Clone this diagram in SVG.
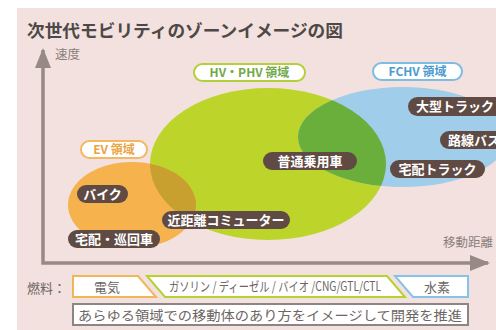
<svg xmlns="http://www.w3.org/2000/svg" width="496" height="330" viewBox="0 0 496 330">
<defs>
<style>
text{font-family:"Noto Sans CJK JP","Noto Sans",sans-serif}
.title{font-size:17.5px;font-weight:bold;fill:#4e4846}
.axl{font-size:12.5px;fill:#8a7f7c}
.pill rect{fill:#5f4b43}
.pill text{font-size:13px;font-weight:bold;fill:#fff}
.zl rect{fill:#fff;stroke-width:2}
.zl text{font-size:12px;font-weight:bold;text-anchor:middle}
.fuel{font-size:13px;fill:#6d6664}
.mid{text-anchor:middle}
.axis{fill:none;stroke:#978a85;stroke-width:3.5}
.seg{fill:#fff;stroke-width:2;stroke-linejoin:miter}
</style>
<marker id="ah" viewBox="0 0 20 16" refX="18" refY="8" markerWidth="20" markerHeight="16" markerUnits="userSpaceOnUse" orient="auto-start-reverse">
<path d="M0,0 L20,8 L0,16 z" fill="#978a85"/>
</marker>
<clipPath id="cg"><ellipse cx="268" cy="164" rx="118" ry="76"/></clipPath>
</defs>
<rect x="0" y="0" width="496" height="330" fill="#fff"/>
<rect x="17" y="8" width="479" height="322" fill="#f2e1de"/>
<text class="title" x="27" y="37" textLength="316" lengthAdjust="spacingAndGlyphs">次世代モビリティのゾーンイメージの図</text>

<g id="zones">
<ellipse id="zone-hv" cx="268" cy="164" rx="118" ry="76" fill="#bdd42b"/>
<ellipse id="zone-fchv" cx="403" cy="137" rx="105" ry="50" fill="#a0cdea"/>
<ellipse id="zone-ev" cx="132" cy="205" rx="64" ry="43" fill="#f5b24d"/>
<g clip-path="url(#cg)">
<ellipse cx="403" cy="137" rx="105" ry="50" fill="#6aae3c"/>
<ellipse cx="132" cy="205" rx="64" ry="43" fill="#c7a030"/>
</g>
</g>

<g id="connectors">
<path class="axis" d="M43,50 L43,263 L488,263" marker-start="url(#ah)" marker-end="url(#ah)"/>
</g>
<text class="axl" x="55" y="59">速度</text>
<text class="axl" x="443" y="247" font-size="13">移動距離</text>

<g id="label-hv" class="zl">
<rect x="194" y="64" width="111" height="17" rx="8.5" stroke="#b3cf3a"/>
<text x="249.5" y="77" fill="#72a948">HV・PHV 領域</text>
</g>
<g id="label-fchv" class="zl">
<rect x="373" y="63" width="89" height="17" rx="8.5" stroke="#7dbde3"/>
<text x="417.5" y="76" fill="#4c9ad0">FCHV 領域</text>
</g>
<g id="label-ev" class="zl">
<rect x="81" y="141" width="66" height="17" rx="8.5" stroke="#f2b862"/>
<text x="114" y="154" fill="#eba444">EV 領域</text>
</g>

<g id="truck" class="pill"><rect x="408" y="97" width="100" height="19" rx="9.5"/><text x="416" y="111">大型トラック</text></g>
<g id="bus" class="pill"><rect x="440" y="131" width="70" height="18" rx="9"/><text x="448" y="145">路線バス</text></g>
<g id="delivery-truck" class="pill"><rect x="390" y="160" width="95" height="18" rx="9"/><text class="mid" x="437.5" y="174">宅配トラック</text></g>
<g id="car" class="pill"><rect x="263" y="152" width="94" height="18" rx="9"/><text class="mid" x="310" y="166">普通乗用車</text></g>
<g id="commuter" class="pill"><rect x="162" y="211" width="128" height="18" rx="9"/><text class="mid" x="226" y="225">近距離コミューター</text></g>
<g id="bike" class="pill"><rect x="77" y="185" width="51" height="18" rx="9"/><text class="mid" x="102.5" y="199">バイク</text></g>
<g id="patrol" class="pill"><rect x="68" y="230" width="92" height="18" rx="9"/><text class="mid" x="114" y="244">宅配・巡回車</text></g>

<g id="fuel">
<text class="fuel" x="27" y="293">燃料：</text>
<polygon class="seg" points="73,276 138,276 156,297 73,297" stroke="#f2b65a"/>
<polygon class="seg" points="147,276 387,276 405,297 165,297" stroke="#b5d231"/>
<polygon class="seg" points="395,276 468,276 468,297 413,297" stroke="#86c3e6"/>
<text class="fuel mid" x="107" y="292">電気</text>
<text class="fuel mid" x="275" y="291" font-size="10.5" textLength="212" lengthAdjust="spacingAndGlyphs">ガソリン / ディーゼル / バイオ /CNG/GTL/CTL</text>
<text class="fuel mid" x="437" y="292">水素</text>
</g>

<g id="note">
<rect x="73" y="304" width="395" height="21" fill="#fff" stroke="#8d8583" stroke-width="2"/>
<text class="fuel" x="78" y="320" font-size="14" textLength="384" lengthAdjust="spacingAndGlyphs">あらゆる領域での移動体のあり方をイメージして開発を推進</text>
</g>
</svg>
